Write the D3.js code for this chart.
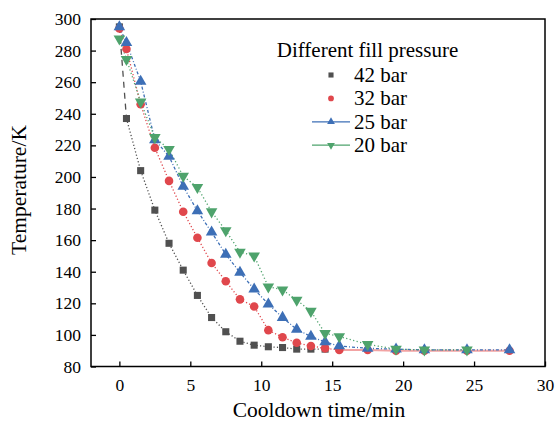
<!DOCTYPE html>
<html>
<head>
<meta charset="utf-8">
<script src="https://cdn.jsdelivr.net/npm/d3@7"></script>
<style>
  body { margin: 0; background: #fff; }
  svg text { font-family: "Liberation Serif", "Times New Roman", Times, serif !important; }
</style>
</head>
<body>
<div id="chart"></div>
<script>
var width = 558, height = 430;
var margin = { left: 91, right: 13, top: 19, bottom: 63.5 };
var serif = "'Liberation Serif', 'Times New Roman', serif";

// data
var xTicks = [0, 5, 10, 15, 20, 25, 30];
var yTicks = [80, 100, 120, 140, 160, 180, 200, 220, 240, 260, 280, 300];

var t42 = [0, 0.5, 1.5, 2.5, 3.5, 4.5, 5.5, 6.5, 7.5, 8.5, 9.5, 10.5, 11.5, 12.5, 13.5, 14.5];
var T42 = [295, 237, 204, 179, 158, 141, 125, 111, 102, 96, 93.5, 92.5, 92, 91, 91, 91];

var t32 = [0, 0.5, 1.5, 2.5, 3.5, 4.5, 5.5, 6.5, 7.5, 8.5, 9.5, 10.5, 11.5, 12.5, 13.5, 14.5, 15.5, 17.5, 19.5, 21.5, 24.5, 27.5];
var T32 = [294, 281, 246, 218.5, 197.5, 178, 161.5, 145.5, 134, 122.5, 118, 103, 98.5, 95, 93, 91.5, 90.5, 90.5, 90, 90, 90, 90];

var t25 = [0, 0.5, 1.5, 2.5, 3.5, 4.5, 5.5, 6.5, 7.5, 8.5, 9.5, 10.5, 11.5, 12.5, 13.5, 14.5, 15.5, 17.5, 19.5, 21.5, 24.5, 27.5];
var T25 = [295, 285, 260.5, 223.5, 213, 194, 178.5, 165, 151, 139.5, 129, 119.5, 111, 103.5, 99, 95.5, 93, 91.5, 91, 90.5, 90.5, 90.5];

var t20 = [0, 0.5, 1.5, 2.5, 3.5, 4.5, 5.5, 6.5, 7.5, 8.5, 9.5, 10.5, 11.5, 12.5, 13.5, 14.5, 15.5, 17.5, 19.5, 21.5, 24.5];
var T20 = [287.5, 274.5, 247.5, 225, 217.5, 200.5, 193.5, 178, 166, 152.5, 150, 130.5, 128.5, 122, 115, 101, 99, 94, 91, 90.5, 90.5];

var seriesNames = ["42 bar", "32 bar", "25 bar", "20 bar"];

var series = [
  { name: seriesNames[0], t: t42, T: T42, color: "#505050", symbol: d3.symbolSquare, size: 50, dash: "1.2,2.2", rot: 0 },
  { name: seriesNames[1], t: t32, T: T32, color: "#e0474c", symbol: d3.symbolCircle, size: 58, dash: "1.2,2.2", rot: 0 },
  { name: seriesNames[2], t: t25, T: T25, color: "#3d6fb6", symbol: d3.symbolTriangle, size: 58, dash: "3,2,1,2", rot: 0 },
  { name: seriesNames[3], t: t20, T: T20, color: "#4ea36c", symbol: d3.symbolTriangle, size: 58, dash: "1.2,2.4", rot: 180 }
];

var svg = d3.select("#chart").append("svg")
  .attr("width", width).attr("height", height)
  .attr("font-family", serif);

var x = d3.scaleLinear().domain([-2, 30]).range([margin.left, width - margin.right]);
var y = d3.scaleLinear().domain([80, 300]).range([height - margin.bottom, margin.top]);

// axes, ticks pointing inward
var xAxis = d3.axisBottom(x).tickValues(xTicks).tickSizeInner(-5).tickSizeOuter(0).tickPadding(12);
var yAxis = d3.axisLeft(y).tickValues(yTicks).tickSizeInner(-5).tickSizeOuter(0).tickPadding(10);

var gx = svg.append("g").attr("transform", "translate(0," + (height - margin.bottom) + ")").call(xAxis);
var gy = svg.append("g").attr("transform", "translate(" + margin.left + ",0)").call(yAxis);
[gx, gy].forEach(function(g) {
  g.attr("font-family", serif).attr("font-size", 17.5);
  g.select(".domain").remove();
  g.selectAll(".tick line").attr("stroke", "#000").attr("stroke-width", 1.3);
  g.selectAll(".tick text").attr("fill", "#000");
});

// lines
var line = d3.line()
  .x(function(d) { return x(d[0]); })
  .y(function(d) { return y(d[1]); });

series.forEach(function(s) {
  var pts = s.t.map(function(v, i) { return [v, s.T[i]]; });
  if (s.name === "42 bar") {
    // first drop drawn with long dashes
    svg.append("path").datum(pts.slice(0, 2)).attr("d", line)
      .attr("fill", "none").attr("stroke", s.color).attr("stroke-width", 1.3)
      .attr("stroke-dasharray", "6,5");
    pts = pts.slice(1);
  }
  if (s.name === "32 bar") {
    var k = s.t.indexOf(15.5);
    svg.append("path").datum(pts.slice(k)).attr("d", line)
      .attr("fill", "none").attr("stroke", "#f2a3a3").attr("stroke-width", 2);
    pts = pts.slice(0, k + 1);
  }
  svg.append("path").datum(pts).attr("d", line)
    .attr("fill", "none").attr("stroke", s.color).attr("stroke-width", 1.3)
    .attr("stroke-dasharray", s.dash);
});

// markers
series.forEach(function(s) {
  var sym = d3.symbol().type(s.symbol).size(s.size);
  svg.append("g").selectAll("path")
    .data(s.t.map(function(v, i) { return [v, s.T[i]]; }))
    .enter().append("path")
    .attr("d", sym)
    .attr("fill", s.color)
    .attr("transform", function(d) {
      return "translate(" + x(d[0]) + "," + y(d[1]) + ") rotate(" + s.rot + ")";
    });
});

// frame
svg.append("rect")
  .attr("x", margin.left).attr("y", margin.top)
  .attr("width", width - margin.left - margin.right)
  .attr("height", height - margin.top - margin.bottom)
  .attr("fill", "none").attr("stroke", "#000").attr("stroke-width", 1.5);

// axis titles
svg.append("text")
  .attr("x", 319).attr("y", 417)
  .attr("text-anchor", "middle").attr("font-size", 21.5)
  .text("Cooldown time/min");
svg.append("text")
  .attr("transform", "translate(26,190) rotate(-90)")
  .attr("text-anchor", "middle").attr("font-size", 21.5)
  .text("Temperature/K");

// legend
var legend = svg.append("g");
legend.append("text").attr("x", 367.5).attr("y", 57).attr("text-anchor", "middle")
  .attr("font-size", 21).text("Different fill pressure");
series.forEach(function(s, i) {
  var ly = 75 + i * 23.4;
  if (i >= 2) {
    legend.append("line").attr("x1", 312).attr("x2", 350).attr("y1", ly).attr("y2", ly)
      .attr("stroke", s.color).attr("stroke-width", 1.3);
  }
  legend.append("path")
    .attr("d", d3.symbol().type(s.symbol).size(26))
    .attr("fill", s.color)
    .attr("transform", "translate(331," + ly + ") rotate(" + s.rot + ")");
  legend.append("text").attr("x", 354).attr("y", ly + 6.8)
    .attr("font-size", 21).text(s.name);
});
</script>
</body>
</html>
